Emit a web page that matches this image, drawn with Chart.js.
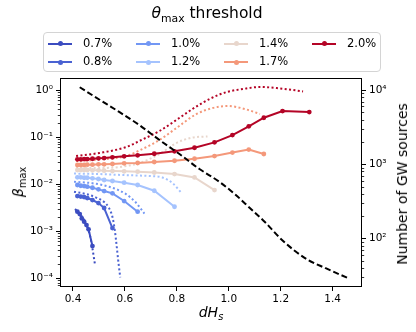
<!DOCTYPE html>
<html>
<head>
<meta charset="utf-8">
<script src="https://cdn.jsdelivr.net/npm/chart.js@4.4.0/dist/chart.umd.min.js"></script>
<style>
  body { margin: 0; background: #fff; }
  #wrap { position: relative; width: 416px; height: 332px; font-family: "DejaVu Sans", sans-serif; color: #000; }
  #plot { position: absolute; left: 0; top: 0; }
  .lbl { position: absolute; white-space: nowrap; line-height: 1; transform: translate(-50%, -50%); }
  .lbl sub { font-size: 70%; vertical-align: -0.3em; line-height: 0; }
  #title { left: 207px; top: 14px; font-size: 15.5px; }
  #xtitle { left: 211px; top: 312px; font-size: 14px; }
  #ytitle { left: 18px; top: 182px; font-size: 14px; transform: translate(-50%, -50%) rotate(-90deg); }
  #y2title { left: 402px; top: 184px; font-size: 14px; transform: translate(-50%, -50%) rotate(-90deg); }
  #legend { position: absolute; left: 43px; top: 32px; width: 336px; height: 38px; border: 1px solid #d4d4d4; border-radius: 4px; background: rgba(255,255,255,0.8); }
  .li-line { position: absolute; width: 24px; height: 2px; }
  .li-dot { position: absolute; width: 5px; height: 5px; border-radius: 50%; }
  .li-txt { position: absolute; font-size: 11.5px; line-height: 1; transform: translateY(-50%); }
</style>
</head>
<body>
<div id="wrap">
  <canvas id="plot" width="416" height="332"></canvas>
  <div id="title" class="lbl"><i>θ</i><sub>max</sub> threshold</div>
  <div id="legend"></div>
  <div id="xtitle" class="lbl"><i>dH<sub>s</sub></i></div>
  <div id="ytitle" class="lbl"><i>β</i><sub>max</sub></div>
  <div id="y2title" class="lbl">Number of GW sources</div>
</div>
<script>
// theta_max thresholds (one solid measured curve + one dotted curve each)
const thresholds = ['0.7%', '0.8%', '1.0%', '1.2%', '1.4%', '1.7%', '2.0%'];
const colors = ['#3b4cc0', '#4a62d2', '#7297f4', '#a5c3fe', '#e8d6cc', '#f4987a', '#b40426'];

// measured beta_max vs dH_s
const dH_07 = [0.417, 0.426, 0.434, 0.443, 0.452, 0.460, 0.475];
const beta_07 = [0.00258, 0.0023, 0.00186, 0.00158, 0.00134, 0.00109, 0.00048];
const dH_08 = [0.417, 0.430, 0.443, 0.455, 0.475, 0.498, 0.520, 0.552];
const beta_08 = [0.00556, 0.00542, 0.00529, 0.00504, 0.00457, 0.00394, 0.00309, 0.00116];
const dH_10 = [0.417, 0.430, 0.443, 0.455, 0.475, 0.498, 0.520, 0.552, 0.597, 0.649];
const beta_10 = [0.00953, 0.0092, 0.00906, 0.00877, 0.00834, 0.00771, 0.0071, 0.00634, 0.00435, 0.00258];
const dH_12 = [0.417, 0.430, 0.443, 0.455, 0.475, 0.498, 0.520, 0.552, 0.597, 0.649, 0.713, 0.791];
const beta_12 = [0.0139, 0.0139, 0.0136, 0.0136, 0.0132, 0.0128, 0.0122, 0.0116, 0.0107, 0.00953, 0.0072, 0.00329];
const dH_14 = [0.417, 0.430, 0.443, 0.455, 0.475, 0.498, 0.520, 0.552, 0.597, 0.649, 0.713, 0.791, 0.868, 0.945];
const beta_14 = [0.0199, 0.0199, 0.0199, 0.0199, 0.0196, 0.0196, 0.0192, 0.0189, 0.0186, 0.0183, 0.0176, 0.0163, 0.0138, 0.00745];
const dH_17 = [0.417, 0.430, 0.443, 0.455, 0.475, 0.498, 0.520, 0.552, 0.597, 0.649, 0.713, 0.791, 0.868, 0.945, 1.014, 1.077, 1.135];
const beta_17 = [0.0254, 0.0254, 0.0254, 0.0258, 0.0258, 0.0262, 0.0262, 0.0267, 0.0276, 0.028, 0.0294, 0.0313, 0.0345, 0.0394, 0.0468, 0.0542, 0.0435];
const dH_20 = [0.417, 0.430, 0.443, 0.455, 0.475, 0.498, 0.520, 0.552, 0.597, 0.649, 0.713, 0.791, 0.868, 0.945, 1.014, 1.077, 1.135, 1.207, 1.310];
const beta_20 = [0.0336, 0.0336, 0.034, 0.034, 0.0345, 0.0352, 0.0357, 0.037, 0.0388, 0.0408, 0.0441, 0.0497, 0.0592, 0.077, 0.110, 0.169, 0.257, 0.357, 0.340];

// dotted curves
const dHfit_07 = [0.408, 0.430, 0.449, 0.465, 0.475, 0.481, 0.485];
const betafit_07 = [0.00294, 0.00219, 0.00146, 0.000822, 0.000428, 0.000262, 0.000189];
const dHfit_08 = [0.404, 0.451, 0.489, 0.520, 0.539, 0.553, 0.561, 0.567, 0.574, 0.582];
const betafit_08 = [0.00686, 0.00612, 0.00516, 0.00414, 0.00308, 0.00189, 0.00105, 0.000556, 0.000242, 0.000103];
const dHfit_10 = [0.404, 0.475, 0.539, 0.604, 0.642, 0.675];
const betafit_10 = [0.0112, 0.0104, 0.00877, 0.00612, 0.00404, 0.00236];
const dHfit_12 = [0.404, 0.501, 0.597, 0.694, 0.744, 0.783, 0.818];
const betafit_12 = [0.0167, 0.0163, 0.0155, 0.0148, 0.0138, 0.0105, 0.00644];
const dHfit_14 = [0.412, 0.501, 0.578, 0.655, 0.733, 0.798, 0.860, 0.918];
const betafit_14 = [0.0219, 0.0219, 0.023, 0.028, 0.0435, 0.0745, 0.0976, 0.1025];
const dHfit_17 = [0.412, 0.501, 0.605, 0.667, 0.733, 0.798, 0.876, 0.938, 0.996, 1.062, 1.120];
const betafit_17 = [0.0309, 0.0332, 0.0394, 0.0555, 0.0863, 0.155, 0.309, 0.414, 0.457, 0.394, 0.309];
const dHfit_20 = [0.412, 0.501, 0.605, 0.667, 0.733, 0.798, 0.860, 0.926, 0.992, 1.054, 1.120, 1.185, 1.247, 1.286];
const betafit_20 = [0.0394, 0.0457, 0.0612, 0.0885, 0.134, 0.230, 0.394, 0.644, 0.906, 1.05, 1.16, 1.10, 1.0, 0.93];

// number of GW sources (right axis)
const dH_gw = [0.426, 0.501, 0.578, 0.655, 0.733, 0.810, 0.887, 0.965, 1.023, 1.081, 1.139, 1.205, 1.255, 1.305, 1.371, 1.460];
const nGW = [10900, 7450, 5060, 3380, 2120, 1370, 861, 575, 396, 257, 166, 95, 67.6, 51.2, 39.9, 29.0];

const xTicks = [0.4, 0.6, 0.8, 1.0, 1.2, 1.4];
const yTicks = [1e-4, 1e-3, 1e-2, 1e-1, 1];
const y2Ticks = [1e2, 1e3, 1e4];

const solidX = [dH_07, dH_08, dH_10, dH_12, dH_14, dH_17, dH_20];
const solidY = [beta_07, beta_08, beta_10, beta_12, beta_14, beta_17, beta_20];
const fitX = [dHfit_07, dHfit_08, dHfit_10, dHfit_12, dHfit_14, dHfit_17, dHfit_20];
const fitY = [betafit_07, betafit_08, betafit_10, betafit_12, betafit_14, betafit_17, betafit_20];

const pts = (xs, ys) => xs.map((x, i) => ({ x: x, y: ys[i] }));

const SUP = { '-': '\u207B', '0': '\u2070', '1': '\u00B9', '2': '\u00B2', '3': '\u00B3', '4': '\u2074' };
const powLabel = v => '10' + String(Math.round(Math.log10(v))).split('').map(c => SUP[c]).join('');

const datasets = [{
  label: 'N GW',
  data: pts(dH_gw, nGW),
  yAxisID: 'y2',
  borderColor: '#000',
  borderWidth: 2,
  borderDash: [6, 3],
  pointRadius: 0,
  cubicInterpolationMode: 'monotone',
  order: 0
}];

thresholds.forEach((t, i) => {
  datasets.push({
    label: t,
    data: pts(solidX[i], solidY[i]),
    yAxisID: 'y',
    borderColor: colors[i],
    backgroundColor: colors[i],
    borderWidth: 2,
    pointRadius: 2.4,
    pointBorderWidth: 0,
    pointBackgroundColor: colors[i],
    order: 2 + 2 * (6 - i) + 1
  });
  datasets.push({
    label: t + ' fit',
    data: pts(fitX[i], fitY[i]),
    yAxisID: 'y',
    borderColor: colors[i],
    borderWidth: 2,
    borderDash: [2, 2.4],
    borderCapStyle: 'butt',
    pointRadius: 0,
    cubicInterpolationMode: 'monotone',
    order: 2 + 2 * (6 - i)
  });
});

// minor log ticks + full frame
const frameAndMinor = {
  id: 'frameAndMinor',
  afterDraw(chart) {
    const ctx = chart.ctx, a = chart.chartArea;
    ctx.save();
    ctx.strokeStyle = '#000';
    ctx.lineWidth = 0.8;
    [['y', -1], ['y2', 1]].forEach(([id, dir]) => {
      const s = chart.scales[id];
      const x0 = dir < 0 ? a.left : a.right;
      for (let e = Math.floor(Math.log10(s.min)); e <= Math.ceil(Math.log10(s.max)); e++) {
        for (let k = 2; k < 10; k++) {
          const v = k * Math.pow(10, e);
          if (v < s.min || v > s.max) continue;
          const y = Math.round(s.getPixelForValue(v)) + 0.5;
          ctx.beginPath();
          ctx.moveTo(x0, y);
          ctx.lineTo(x0 + dir * 2.2, y);
          ctx.stroke();
        }
      }
    });
    ctx.lineWidth = 1;
    ctx.strokeRect(a.left + 0.5, a.top + 0.5, a.right - a.left - 1, a.bottom - a.top - 1);
    ctx.restore();
  }
};

const tickFont = { family: 'DejaVu Sans', size: 10.5 };
const axisGrid = { drawOnChartArea: false, color: '#000', tickLength: 4, tickWidth: 1 };

new Chart(document.getElementById('plot'), {
  type: 'line',
  data: { datasets: datasets },
  options: {
    responsive: false,
    animation: false,
    devicePixelRatio: 1,
    layout: { padding: { top: 78, left: 0, right: 0, bottom: 0 } },
    plugins: { legend: { display: false }, tooltip: { enabled: false }, title: { display: false } },
    scales: {
      x: {
        type: 'linear', min: 0.35, max: 1.513,
        afterBuildTicks: s => { s.ticks = xTicks.map(v => ({ value: v })); },
        afterFit: s => { s.height = 45; },
        ticks: { font: tickFont, color: '#000', padding: 2, maxRotation: 0, callback: v => v.toFixed(1) },
        grid: axisGrid,
        border: { display: false }
      },
      y: {
        type: 'logarithmic', position: 'left', min: 6.46e-5, max: 1.8,
        afterBuildTicks: s => { s.ticks = yTicks.map(v => ({ value: v })); },
        afterFit: s => { s.width = 60; },
        ticks: { font: tickFont, color: '#000', padding: 3, callback: v => powLabel(v) },
        grid: axisGrid,
        border: { display: false }
      },
      y2: {
        type: 'logarithmic', position: 'right', min: 22.1, max: 14520,
        afterBuildTicks: s => { s.ticks = y2Ticks.map(v => ({ value: v })); },
        afterFit: s => { s.width = 54; },
        ticks: { font: tickFont, color: '#000', padding: 3, callback: v => powLabel(v) },
        grid: axisGrid,
        border: { display: false }
      }
    }
  },
  plugins: [frameAndMinor]
});

// legend: two rows, filled column by column
const legendBox = document.getElementById('legend');
thresholds.forEach((t, i) => {
  const col = Math.floor(i / 2), row = i % 2;
  const left = 4 + col * 88, cy = 10.7 + row * 18.3;
  const line = document.createElement('div');
  line.className = 'li-line';
  line.style.cssText = `left:${left}px;top:${cy - 1}px;background:${colors[i]}`;
  const dot = document.createElement('div');
  dot.className = 'li-dot';
  dot.style.cssText = `left:${left + 9.5}px;top:${cy - 2.5}px;background:${colors[i]}`;
  const txt = document.createElement('div');
  txt.className = 'li-txt';
  txt.style.cssText = `left:${left + 35}px;top:${cy}px`;
  txt.textContent = t;
  legendBox.append(line, dot, txt);
});
</script>
</body>
</html>
